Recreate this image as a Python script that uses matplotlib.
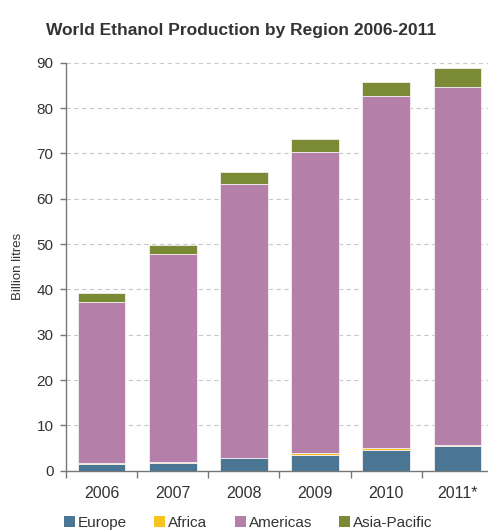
import numpy as np
import matplotlib.pyplot as plt
from matplotlib.patches import Patch

plt.rcParams['font.family'] = ['Liberation Sans', 'DejaVu Sans']

years = ['2006', '2007', '2008', '2009', '2010', '2011*']

# Ethanol production by region (billion litres)
europe = np.array([1.5, 1.8, 2.7, 3.5, 4.6, 5.4])
africa = np.array([0.1, 0.1, 0.2, 0.3, 0.3, 0.3])
americas = np.array([35.7, 45.8, 60.3, 66.4, 77.7, 79.0])
asia_pacific = np.array([2.0, 2.0, 2.8, 3.0, 3.2, 4.1])

regions = ['Europe', 'Africa', 'Americas', 'Asia-Pacific']
colors = ['#4a7694', '#f7c31c', '#b47fa9', '#7b8a35']
series = [europe, africa, americas, asia_pacific]

text_color = '#333333'

fig = plt.figure(figsize=(4.88, 5.31), dpi=100)
ax = fig.add_axes([0.135, 0.1136, 0.865, 0.7683])

x = np.arange(len(years))
bottom = np.zeros(len(years))
for vals, col in zip(series, colors):
    ax.bar(x, vals, width=0.67, bottom=bottom, color=col,
           edgecolor='#f3eef2', linewidth=0.6, zorder=3)
    bottom += vals

ax.set_ylim(0, 90)
ax.set_xlim(-0.5, 5.43)
ax.set_yticks(np.arange(0, 91, 10))
ax.yaxis.grid(True, linestyle=(0, (4, 3)), color='#c8c8c8', linewidth=0.8, zorder=0)

# ticks between categories, labels centred under bars
ax.set_xticks(np.arange(-0.5, 5.5, 1.0))
ax.set_xticklabels([])
ax.set_xticks(x, minor=True)
ax.set_xticklabels(years, minor=True)
ax.tick_params(axis='x', which='minor', length=0, pad=11, labelsize=11.5, labelcolor=text_color)
ax.tick_params(axis='x', which='major', length=5, color='#777777', width=1)
ax.tick_params(axis='y', length=4, color='#777777', width=1, labelsize=11,
               labelcolor=text_color, pad=5)

for side in ['top', 'right']:
    ax.spines[side].set_visible(False)
for side in ['left', 'bottom']:
    ax.spines[side].set_color('#777777')
    ax.spines[side].set_linewidth(1)

ax.set_ylabel('Billion litres', fontsize=9.5, color=text_color, labelpad=9)

fig.text(0.494, 0.943, 'World Ethanol Production by Region 2006-2011',
         ha='center', va='center', fontsize=12.5, fontweight='bold', color=text_color)

handles = [Patch(facecolor=c, edgecolor='none') for c in colors]
fig.legend(handles, regions, loc='center', bbox_to_anchor=(0.509, 0.015), ncol=4,
           frameon=False, handlelength=0.7, handleheight=0.7, handletextpad=0.2,
           columnspacing=1.8, fontsize=11, labelcolor=text_color)

fig.savefig('out.png', dpi=100)
